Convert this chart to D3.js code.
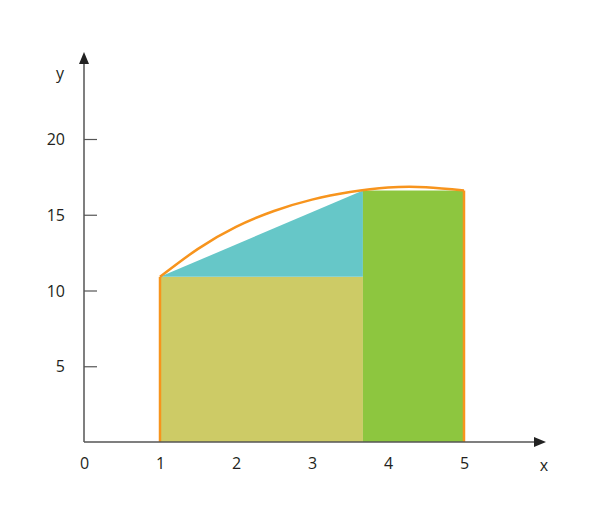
<!DOCTYPE html>
<html>
<head>
<meta charset="utf-8">
<script src="https://cdn.jsdelivr.net/npm/d3@7"></script>
<style>
  body { margin: 0; background: #fff; }
  svg text { font-family: "Open Sans", sans-serif; font-size: 16px; fill: #231f20; }
</style>
</head>
<body>
<div id="chart"></div>
<script>
// values
const xTicks = [0, 1, 2, 3, 4, 5];
const yTicks = [5, 10, 15, 20];
const curveX = [1, 1.5, 2, 2.5, 3, 3.5, 4, 4.5, 5];
const curveY = [10.9, 12.75, 14.2, 15.25, 16.0, 16.5, 16.8, 16.82, 16.6];
// split point between the two rectangles
const splitX = 3.67;
const leftH = 10.9;
const rightH = 16.6;

const width = 600, height = 520;
const svg = d3.select('#chart').append('svg')
    .attr('width', width)
    .attr('height', height);

const x = d3.scaleLinear().domain([0, 6]).range([84, 540]);
const y = d3.scaleLinear().domain([0, 20]).range([442, 139]);

// shapes
svg.append('rect')
    .attr('x', x(1)).attr('y', y(leftH))
    .attr('width', x(splitX) - x(1)).attr('height', y(0) - y(leftH))
    .attr('fill', '#cdcb66');

svg.append('path')
    .attr('d', d3.line()([[x(1), y(leftH)], [x(splitX), y(rightH)], [x(splitX), y(leftH)]]) + 'Z')
    .attr('fill', '#66c7c8');

svg.append('rect')
    .attr('x', x(splitX)).attr('y', y(rightH))
    .attr('width', x(5) - x(splitX)).attr('height', y(0) - y(rightH))
    .attr('fill', '#8dc63f');

// orange curve + verticals
const pts = curveX.map((v, i) => [x(v), y(curveY[i])]);
svg.append('path')
    .attr('d', d3.line().curve(d3.curveNatural)(pts))
    .attr('fill', 'none')
    .attr('stroke', '#f7941d')
    .attr('stroke-width', 2.5);

[[1, curveY[0]], [5, curveY[curveY.length - 1]]].forEach(d => {
    svg.append('line')
        .attr('x1', x(d[0])).attr('x2', x(d[0]))
        .attr('y1', y(0)).attr('y2', y(d[1]))
        .attr('stroke', '#f7941d')
        .attr('stroke-width', 2.5);
});

// axes
const axisColor = '#555';
svg.append('line')
    .attr('x1', x(0)).attr('x2', 538)
    .attr('y1', y(0)).attr('y2', y(0))
    .attr('stroke', axisColor).attr('stroke-width', 1.5);
svg.append('path')
    .attr('d', 'M546,442 L534,437 L534,447 Z')
    .attr('fill', '#222');
svg.append('line')
    .attr('x1', x(0)).attr('x2', x(0))
    .attr('y1', y(0)).attr('y2', 60)
    .attr('stroke', axisColor).attr('stroke-width', 1.5);
svg.append('path')
    .attr('d', `M${x(0)},52 L${x(0) - 5},64 L${x(0) + 5},64 Z`)
    .attr('fill', '#222');

const yAxis = svg.append('g')
    .attr('transform', `translate(${x(0)},0)`)
    .call(d3.axisLeft(y).tickValues(yTicks).tickFormat(d3.format('d')).tickSize(-13).tickPadding(19));
yAxis.select('.domain').remove();
yAxis.selectAll('.tick line').attr('stroke', axisColor).attr('stroke-width', 1.2);
yAxis.selectAll('.tick text').attr('font-size', null).attr('font-family', null).attr('dy', '0.35em');

const xAxis = svg.append('g')
    .attr('transform', `translate(0,${y(0)})`)
    .call(d3.axisBottom(x).tickValues(xTicks).tickFormat(d3.format('d')).tickSize(0).tickPadding(16));
xAxis.select('.domain').remove();
xAxis.selectAll('.tick text').attr('font-size', null).attr('font-family', null);

svg.append('text').attr('x', 60).attr('y', 79).attr('text-anchor', 'middle').text('y');
svg.append('text').attr('x', 544).attr('y', 471).attr('text-anchor', 'middle').text('x');
</script>
</body>
</html>
